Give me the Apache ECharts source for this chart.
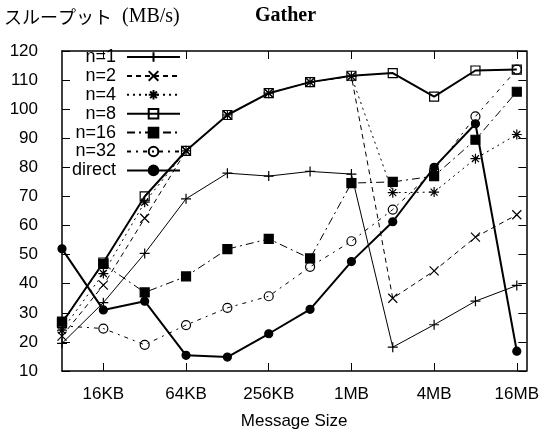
<!DOCTYPE html>
<html><head><meta charset="utf-8">
<script src="https://cdn.jsdelivr.net/npm/echarts@6/dist/echarts.min.js"></script>
<style>html,body{margin:0;padding:0;background:#fff}#c{width:542px;height:435px}</style>
</head><body><div id="c"></div>
<script>
// x positions: log2 of message size in KB (8KB .. 16MB)
const sizesLog2KB = [3,4,5,6,7,8,9,10,11,12,13,14];
const tickValues = [4,6,8,10,12,14];
const tickLabels = ['16KB','64KB','256KB','1MB','4MB','16MB'];
const n1     = [19.5, 33.5, 50.4, 69.2, 78.0, 77.0, 78.6, 77.7, 18.2, 25.9, 34.0, 39.4];
const n2     = [22.0, 39.5, 62.5, 85.7, 98.0, 105.5, 109.3, 111.3, 35.0, 44.4, 56.0, 63.7];
const n4     = [24.0, 43.5, 68.0, 85.7, 98.0, 105.5, 109.3, 111.3, 71.3, 71.5, 83.0, 91.3];
const n8     = [26.5, 47.3, 70.0, 85.7, 98.0, 105.5, 109.3, 111.5, 112.4, 104.3, 113.3, 113.6];
const n16    = [27.0, 46.8, 37.0, 42.5, 51.9, 55.4, 48.7, 74.6, 75.0, 77.0, 89.5, 106.0];
const n32    = [25.5, 24.6, 19.0, 25.8, 31.7, 35.7, 45.8, 54.6, 65.5, 79.0, 97.5, 113.6];
const direct = [52.0, 31.0, 34.0, 15.4, 14.8, 22.8, 31.2, 47.6, 61.3, 80.0, 95.0, 16.8];

const pts = arr => sizesLog2KB.map((x,i)=>[x, arr[i]]);
const PLUS = 'path://M0,5L10,5M5,0L5,10';
const CROSS = 'path://M0,0L10,10M10,0L0,10';
const STAR = 'path://M0,5L10,5M5,0L5,10M1.5,1.5L8.5,8.5M8.5,1.5L1.5,8.5';

function ser(name, data, sym, size, fill, lw, type) {
  return {
    name, type:'line', data: pts(data), symbol: sym, symbolSize: size,
    lineStyle:{color:'#000', width:lw, type:type},
    itemStyle:{color: fill, borderColor:'#000', borderWidth: 1.2},
    emphasis:{disabled:true}, animation:false, z: 2
  };
}
const label = v => { const i = tickValues.indexOf(v); return i>=0 ? tickLabels[i] : ''; };

const chart = echarts.init(document.getElementById('c'), null, {renderer:'canvas'});
chart.setOption({
  backgroundColor:'#fff',
  animation:false,
  title:[
    {text:'{a|スループット}  {b|(MB/s)}', left:4, top:7, padding:0,
     textStyle:{rich:{a:{fontFamily:'Noto Sans CJK JP', fontWeight:'normal', fontSize:18, color:'#000'},
                      b:{fontFamily:'Liberation Serif', fontWeight:'normal', fontSize:20, color:'#000'}}}},
    {text:'Gather', left:255, top:6, padding:0,
     textStyle:{fontFamily:'Liberation Serif', fontWeight:'bold', fontSize:20, color:'#000'}}
  ],
  legend:{
    orient:'vertical', left:67, top:43, align:'right', itemWidth:53, itemHeight:12, itemGap:0.9,
    textStyle:{fontFamily:'Liberation Sans', fontSize:18, color:'#000', padding:[0,6,0,0]},
    data:['n=1','n=2','n=4','n=8','n=16','n=32','direct']
  },
  grid:{left:62, right:14, top:51, bottom:59, containLabel:false},
  xAxis:[
    {type:'value', min:3, max:14.23, position:'bottom',
     axisLine:{lineStyle:{color:'#000', width:1.5}},
     axisTick:{inside:true, length:8, customValues:tickValues, lineStyle:{color:'#000'}},
     axisLabel:{customValues:tickValues, formatter:label, color:'#000', fontFamily:'Liberation Sans', fontSize:17, margin:15},
     splitLine:{show:false},
     name:'Message Size', nameLocation:'middle', nameGap:42,
     nameTextStyle:{fontFamily:'Liberation Sans', fontSize:17, color:'#000'}},
    {type:'value', min:3, max:14.23, position:'top',
     axisLine:{lineStyle:{color:'#000', width:1.5}},
     axisTick:{inside:true, length:8, customValues:tickValues, lineStyle:{color:'#000'}},
     axisLabel:{show:false}, splitLine:{show:false}}
  ],
  yAxis:[
    {type:'value', min:10, max:120, interval:10, position:'left',
     axisLine:{show:true, lineStyle:{color:'#000', width:1.5}},
     axisTick:{show:true, inside:true, length:8, lineStyle:{color:'#000'}},
     axisLabel:{color:'#000', fontFamily:'Liberation Sans', fontSize:17, margin:24},
     splitLine:{show:false}},
    {type:'value', min:10, max:120, interval:10, position:'right',
     axisLine:{show:true, lineStyle:{color:'#000', width:1.5}},
     axisTick:{show:true, inside:true, length:8, lineStyle:{color:'#000'}},
     axisLabel:{show:false}, splitLine:{show:false}}
  ],
  series:[
    ser('n=1', n1, PLUS, 10, '#000', 1, 'solid'),
    ser('n=2', n2, CROSS, 9, '#000', 1, [5,4]),
    ser('n=4', n4, STAR, 10, '#000', 1, [2,4]),
    ser('n=8', n8, 'rect', 9, 'rgba(0,0,0,0)', 2, 'solid'),
    ser('n=16', n16, 'rect', 9, '#000', 1, [8,4,2,4]),
    ser('n=32', n32, 'circle', 9, 'rgba(0,0,0,0)', 1, [4,5,2,5]),
    ser('direct', direct, 'circle', 8, '#000', 2, 'solid')
  ]
});
</script></body></html>
